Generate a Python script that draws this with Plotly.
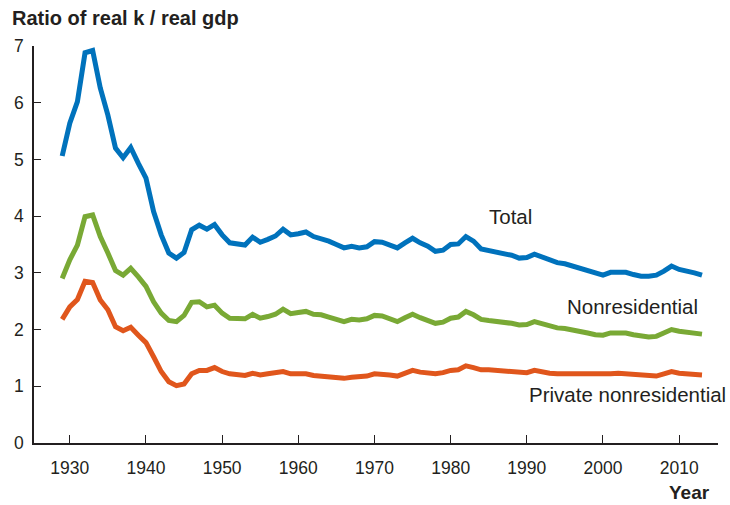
import plotly.graph_objects as go

years = list(range(1929, 2014))

total = [5.06, 5.64, 6.02, 6.88, 6.92, 6.26, 5.78, 5.20, 5.03, 5.21,
         4.93, 4.67, 4.08, 3.67, 3.35, 3.26, 3.36, 3.76, 3.84, 3.77,
         3.85, 3.67, 3.53, 3.51, 3.49, 3.63, 3.54, 3.59, 3.65, 3.77,
         3.67, 3.69, 3.72, 3.64, 3.61, 3.56, 3.50, 3.44, 3.47, 3.44,
         3.46, 3.55, 3.54, 3.49, 3.44, 3.53, 3.61, 3.53, 3.47, 3.38,
         3.40, 3.50, 3.51, 3.64, 3.56, 3.42, 3.39, 3.37, 3.35, 3.31,
         3.26, 3.27, 3.33, 3.28, 3.24, 3.18, 3.16, 3.12, 3.07, 3.02,
         2.98, 2.96, 3.01, 3.02, 3.01, 2.97, 2.94, 2.94, 2.96, 3.03,
         3.12, 3.06, 3.04, 3.00, 2.96]

nonresidential = [2.90, 3.23, 3.49, 3.99, 4.02, 3.64, 3.35, 3.04, 2.96, 3.08,
                  2.93, 2.76, 2.49, 2.29, 2.16, 2.14, 2.25, 2.48, 2.49, 2.40,
                  2.43, 2.29, 2.20, 2.19, 2.19, 2.27, 2.20, 2.23, 2.27, 2.36,
                  2.28, 2.30, 2.32, 2.27, 2.26, 2.22, 2.17, 2.14, 2.18, 2.17,
                  2.19, 2.25, 2.24, 2.20, 2.14, 2.21, 2.27, 2.21, 2.16, 2.11,
                  2.13, 2.20, 2.22, 2.32, 2.26, 2.18, 2.16, 2.15, 2.14, 2.11,
                  2.08, 2.09, 2.14, 2.10, 2.07, 2.03, 2.02, 2.00, 1.97, 1.94,
                  1.91, 1.90, 1.94, 1.95, 1.94, 1.91, 1.88, 1.87, 1.88, 1.93,
                  2.00, 1.97, 1.96, 1.94, 1.92]

private_nonres = [2.18, 2.40, 2.53, 2.85, 2.83, 2.52, 2.35, 2.05, 1.98, 2.04,
                  1.90, 1.77, 1.52, 1.26, 1.08, 1.01, 1.04, 1.22, 1.28, 1.28,
                  1.33, 1.26, 1.22, 1.21, 1.19, 1.23, 1.20, 1.22, 1.23, 1.26,
                  1.22, 1.22, 1.22, 1.19, 1.18, 1.16, 1.15, 1.14, 1.16, 1.16,
                  1.18, 1.22, 1.22, 1.20, 1.18, 1.23, 1.28, 1.25, 1.23, 1.22,
                  1.24, 1.28, 1.29, 1.36, 1.33, 1.29, 1.29, 1.28, 1.27, 1.26,
                  1.24, 1.24, 1.28, 1.25, 1.23, 1.22, 1.22, 1.21, 1.20, 1.20,
                  1.20, 1.20, 1.22, 1.23, 1.22, 1.20, 1.18, 1.17, 1.18, 1.22,
                  1.26, 1.23, 1.22, 1.21, 1.20]

x_ticks = [1930, 1940, 1950, 1960, 1970, 1980, 1990, 2000, 2010]
y_ticks = [0, 1, 2, 3, 4, 5, 6, 7]

series = [
    ("Total", total, "#0072BC"),
    ("Nonresidential", nonresidential, "#79A935"),
    ("Private nonresidential", private_nonres, "#E0561C"),
]

fig = go.Figure()
for name, vals, col in series:
    fig.add_trace(go.Scatter(x=years, y=vals, mode="lines", name=name,
                             line=dict(color=col, width=5),
                             hoverinfo="x+y+name"))

font_family = "Liberation Sans, Arial, sans-serif"
txt_col = "#231F20"

fig.update_layout(
    width=730, height=505,
    margin=dict(l=34, r=12, t=46, b=62),
    paper_bgcolor="white", plot_bgcolor="white",
    showlegend=False,
    font=dict(family=font_family, size=17, color=txt_col),
    xaxis=dict(range=[1925.3, 2015.1], tickvals=x_ticks,
               ticktext=[str(t) for t in x_ticks],
               showgrid=False, zeroline=False,
               showline=True, linecolor="#231F20", linewidth=2,
               ticks="inside", ticklen=8, tickwidth=1.2, tickcolor="#231F20",
               ticklabelstandoff=8,
               tickfont=dict(size=17.5, color=txt_col)),
    yaxis=dict(range=[0, 7], tickvals=y_ticks,
               showgrid=False, zeroline=False,
               showline=True, linecolor="#231F20", linewidth=1.5,
               ticks="inside", ticklen=7, tickwidth=1.2, tickcolor="#231F20",
               ticklabelstandoff=5,
               tickfont=dict(size=17.5, color=txt_col)),
    annotations=[
        dict(text="<b>Ratio of real k / real gdp</b>", xref="paper", yref="paper",
             x=-0.0351, y=1.0, xanchor="left", yanchor="middle", yshift=28,
             showarrow=False, font=dict(size=20, color=txt_col)),
        dict(text="<b>Year</b>", xref="paper", yref="paper",
             x=0.991, y=0, xanchor="right", yanchor="middle", yshift=-49,
             showarrow=False, font=dict(size=19, color=txt_col)),
        dict(text="Total", x=1984.8, y=3.99, xanchor="left", yanchor="middle",
             showarrow=False, font=dict(size=20.5, color=txt_col)),
        dict(text="Nonresidential", x=2012.74, y=2.40, xanchor="right",
             yanchor="middle", showarrow=False, font=dict(size=20.5, color=txt_col)),
        dict(text="Private nonresidential", xref="paper", x=1.0146, y=0.85,
             xanchor="right", yanchor="middle", showarrow=False,
             font=dict(size=20.5, color=txt_col)),
    ],
)

fig.write_html("out.html",
               config={"displayModeBar": False},
               post_script="document.body.style.margin='0';"
                           "document.body.style.overflow='hidden';")
